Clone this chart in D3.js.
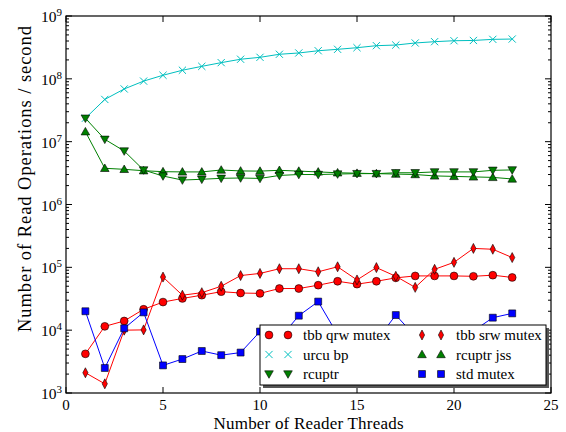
<!DOCTYPE html>
<html>
<head>
<meta charset="utf-8">
<script src="https://cdn.jsdelivr.net/npm/d3@7"></script>
<style>
  body { margin: 0; background: #fff; }
  svg { font-family: "Liberation Serif", "DejaVu Serif", serif; }
</style>
</head>
<body>
<div id="chart"></div>
<script>
// reader thread counts
var threads = [1, 2, 3, 4, 5, 6, 7, 8, 9, 10, 11, 12, 13, 14, 15, 16, 17, 18, 19, 20, 21, 22, 23];

// read operations / second for each implementation
var tbbQrw = [4.2e3, 1.15e4, 1.4e4, 2.15e4, 2.8e4, 3.2e4, 3.6e4, 4.1e4, 3.9e4, 3.85e4, 4.6e4, 4.6e4,
  5.2e4, 6.0e4, 5.4e4, 6.0e4, 6.8e4, 7.3e4, 7.3e4, 7.3e4, 7.2e4, 7.5e4, 6.9e4];
var tbbSrw = [2.1e3, 1.4e3, 1.0e4, 1.01e4, 7.0e4, 3.6e4, 3.95e4, 5.0e4, 7.4e4, 8.0e4, 9.5e4, 9.5e4,
  8.5e4, 1.02e5, 6.3e4, 9.9e4, 7.2e4, 4.8e4, 9.3e4, 1.2e5, 2.0e5, 1.94e5, 1.43e5];
var urcuBp = [2.36e7, 4.7e7, 6.9e7, 9.2e7, 1.14e8, 1.37e8, 1.58e8, 1.81e8, 2.05e8, 2.2e8, 2.46e8, 2.58e8,
  2.8e8, 2.95e8, 3.13e8, 3.37e8, 3.45e8, 3.72e8, 3.9e8, 4.04e8, 4.08e8, 4.25e8, 4.3e8];
var rcuptrJss = [1.44e7, 3.77e6, 3.63e6, 3.45e6, 3.33e6, 3.3e6, 3.3e6, 3.54e6, 3.42e6, 3.4e6, 3.5e6, 3.4e6,
  3.3e6, 3.2e6, 3.15e6, 3.1e6, 3.05e6, 3.0e6, 2.85e6, 2.8e6, 2.75e6, 2.7e6, 2.55e6];
var rcuptr = [2.36e7, 1.09e7, 7.1e6, 3.54e6, 2.84e6, 2.45e6, 2.52e6, 2.61e6, 2.64e6, 2.6e6, 2.9e6, 3.0e6,
  3.0e6, 3.05e6, 3.1e6, 3.1e6, 3.2e6, 3.2e6, 3.3e6, 3.3e6, 3.3e6, 3.5e6, 3.55e6];
var stdMutex = [2.0e4, 2.5e3, 1.07e4, 1.92e4, 2.75e3, 3.47e3, 4.66e3, 4.0e3, 4.4e3, 9.5e3, 7.3e3, 1.7e4,
  2.85e4, 8.5e3, 6.0e3, 6.8e3, 1.74e4, 8.0e3, 7.0e3, 8.0e3, 9.7e3, 1.58e4, 1.85e4];

var xTicks = [0, 5, 10, 15, 20, 25];
var yDecades = [3, 4, 5, 6, 7, 8, 9];

var series = [
  { name: "tbb qrw mutex", values: tbbQrw, color: "#ff0000", marker: "circle" },
  { name: "tbb srw mutex", values: tbbSrw, color: "#ff0000", marker: "diamond" },
  { name: "urcu bp", values: urcuBp, color: "#00bfbf", marker: "x" },
  { name: "rcuptr jss", values: rcuptrJss, color: "#008000", marker: "up" },
  { name: "rcuptr", values: rcuptr, color: "#008000", marker: "down" },
  { name: "std mutex", values: stdMutex, color: "#0000ff", marker: "square" }
];

var width = 566, height = 432;
var plotLeft = 66, plotRight = 551, plotTop = 16, plotBottom = 393;

var x = d3.scaleLinear().domain([0, 25]).range([plotLeft, plotRight]);
var y = d3.scaleLog().domain([1e3, 1e9]).range([plotBottom, plotTop]);

var svg = d3
  .select("#chart")
  .append("svg")
  .attr("width", width)
  .attr("height", height);

function markerPath(type) {
  if (type == "circle") return d3.symbol().type(d3.symbolCircle).size(48)();
  if (type == "square") return d3.symbol().type(d3.symbolSquare).size(48)();
  if (type == "diamond") return "M0,-5L2.6,0L0,5L-2.6,0Z";
  if (type == "up") return "M0,-4.3L4.3,3.2L-4.3,3.2Z";
  if (type == "down") return "M0,4.3L4.3,-3.2L-4.3,-3.2Z";
  return "M-3.6,-3.6L3.6,3.6M-3.6,3.6L3.6,-3.6";
}

var plot = svg.append("g");

// lines first, then markers, series by series
series.forEach(function(s) {
  var line = d3
    .line()
    .x(function(d, i) {
      return x(threads[i]);
    })
    .y(function(d) {
      return y(d);
    });

  plot
    .append("path")
    .datum(s.values)
    .attr("d", line)
    .style("fill", "none")
    .style("stroke", s.color)
    .style("stroke-width", 1);

  plot
    .selectAll(".m-" + s.marker)
    .data(s.values)
    .enter()
    .append("path")
    .attr("class", "m-" + s.marker)
    .attr("transform", function(d, i) {
      return "translate(" + x(threads[i]) + "," + y(d) + ")";
    })
    .attr("d", markerPath(s.marker))
    .style("fill", s.marker == "x" ? "none" : s.color)
    .style("stroke", s.marker == "x" ? s.color : "#000")
    .style("stroke-width", s.marker == "x" ? 1 : 0.6);
});

// frame
svg
  .append("rect")
  .attr("x", plotLeft)
  .attr("y", plotTop)
  .attr("width", plotRight - plotLeft)
  .attr("height", plotBottom - plotTop)
  .style("fill", "none")
  .style("stroke", "#000")
  .style("stroke-width", 1.2);

// x ticks (inward, bottom and top)
var axes = svg.append("g").style("stroke", "#000").style("stroke-width", 1);
xTicks.forEach(function(t) {
  axes.append("line").attr("x1", x(t)).attr("x2", x(t)).attr("y1", plotBottom).attr("y2", plotBottom - 6);
  axes.append("line").attr("x1", x(t)).attr("x2", x(t)).attr("y1", plotTop).attr("y2", plotTop + 6);
});

// y ticks, major and minor, both sides
y.ticks().forEach(function(t) {
  var major = Math.abs(Math.log10(t) - Math.round(Math.log10(t))) < 1e-9;
  var len = major ? 6 : 3;
  axes.append("line").attr("x1", plotLeft).attr("x2", plotLeft + len).attr("y1", y(t)).attr("y2", y(t));
  axes.append("line").attr("x1", plotRight).attr("x2", plotRight - len).attr("y1", y(t)).attr("y2", y(t));
});

svg
  .selectAll(".xlabel")
  .data(xTicks)
  .enter()
  .append("text")
  .attr("class", "xlabel")
  .attr("x", function(d) {
    return x(d);
  })
  .attr("y", 410)
  .attr("text-anchor", "middle")
  .style("font-size", "15px")
  .text(function(d) {
    return d;
  });

var ylab = svg
  .selectAll(".ylabel")
  .data(yDecades)
  .enter()
  .append("text")
  .attr("class", "ylabel")
  .attr("x", 62)
  .attr("y", function(d) {
    return y(Math.pow(10, d)) + 6;
  })
  .attr("text-anchor", "end")
  .style("font-size", "15.5px");
ylab.append("tspan").text("10");
ylab
  .append("tspan")
  .attr("dy", -6)
  .style("font-size", "11px")
  .text(function(d) {
    return d;
  });

svg
  .append("text")
  .attr("x", (plotLeft + plotRight) / 2)
  .attr("y", 429)
  .attr("text-anchor", "middle")
  .attr("textLength", 190)
  .attr("lengthAdjust", "spacing")
  .style("font-size", "17px")
  .text("Number of Reader Threads");

svg
  .append("text")
  .attr("transform", "translate(31,179) rotate(-90)")
  .attr("text-anchor", "middle")
  .attr("textLength", 306)
  .attr("lengthAdjust", "spacing")
  .style("font-size", "18.5px")
  .text("Number of Read Operations / second");

// legend
var lg = svg.append("g").attr("transform", "translate(260,325)");
lg.append("rect")
  .attr("x", 3)
  .attr("y", 3)
  .attr("width", 286)
  .attr("height", 60)
  .style("fill", "#555");
lg.append("rect")
  .attr("width", 286)
  .attr("height", 60)
  .style("fill", "#fff")
  .style("stroke", "#000")
  .style("stroke-width", 1);

var legendOrder = [0, 2, 4, 1, 3, 5];
legendOrder.forEach(function(si, k) {
  var s = series[si];
  var col = Math.floor(k / 3),
    row = k % 3;
  var gx = col == 0 ? 9 : 162,
    gy = 10 + row * 19.5;
  [0, 19].forEach(function(dx) {
    lg.append("path")
      .attr("transform", "translate(" + (gx + dx) + "," + gy + ")")
      .attr("d", markerPath(s.marker))
      .style("fill", s.marker == "x" ? "none" : s.color)
      .style("stroke", s.marker == "x" ? s.color : "#000")
      .style("stroke-width", s.marker == "x" ? 1 : 0.6);
  });
  lg.append("text")
    .attr("x", gx + 34)
    .attr("y", gy + 5)
    .style("font-size", "15px")
    .text(s.name);
});
</script>
</body>
</html>
